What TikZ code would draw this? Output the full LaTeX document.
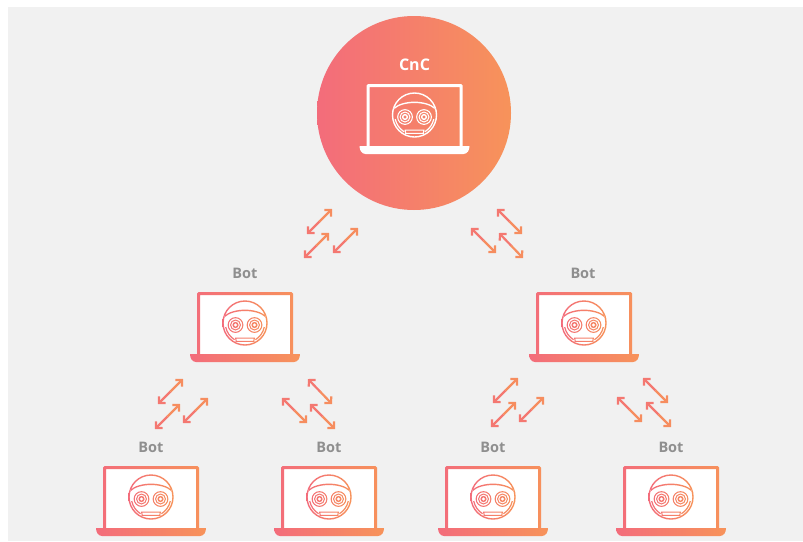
\documentclass[tikz,border=0pt]{standalone}
\usepackage{xcolor}
\usepackage{fontspec}
\setmainfont{Open Sans}
\usetikzlibrary{positioning, arrows.meta, calc}
\definecolor{gradpink}{HTML}{F36C7B}
\definecolor{gradorange}{HTML}{F7935A}
\definecolor{panelgray}{HTML}{F1F1F1}
\definecolor{labelgray}{HTML}{8F8F8F}

\tikzset{
    laptop/.pic={
        \fill[screenfill] (-46,2) rectangle (46,62);
        % body and base in one outline, the screen cut out of it
        \path[inkfill, even odd rule]
            (-55,62) -- (-48,62) [rounded corners=1.5] -- (-48,0) -- (48,0) [sharp corners] -- (48,62) -- (55,62)
            .. controls (55,66) and (53,70) .. (49,70) -- (-49,70) .. controls (-53,70) and (-55,66) .. (-55,62) -- cycle
            (-45,3) rectangle (45,62);
        % face: rings, band and mouth as thin closed outlines
        \path[inkfill, even odd rule, shift={(0,31)}]
            (0,0) circle[radius=22.7] (0,0) circle[radius=21.3]
            (-9.5,2) circle[radius=7.9] (-9.5,2) circle[radius=6.8]
            (-9.5,2) circle[radius=5.5] (-9.5,2) circle[radius=4.4]
            (-9.5,2) circle[radius=3.1] (-9.5,2) circle[radius=1.9]
            (9.5,2) circle[radius=7.9] (9.5,2) circle[radius=6.8]
            (9.5,2) circle[radius=5.5] (9.5,2) circle[radius=4.4]
            (9.5,2) circle[radius=3.1] (9.5,2) circle[radius=1.9]
            (-20.9,-7) .. controls (-12,-15.5) and (12,-15.5) .. (20.9,-7)
            -- (20.4,-5.8) .. controls (12,-14) and (-12,-14) .. (-20.4,-5.8) -- cycle
            (168:20.3) arc[start angle=168, end angle=122, radius=20.3]
            -- (122:19.1) arc[start angle=122, end angle=168, radius=19.1] -- cycle
            (12:20.3) arc[start angle=12, end angle=58, radius=20.3]
            -- (58:19.1) arc[start angle=58, end angle=12, radius=19.1] -- cycle
            (-10,14.6) -- (10,14.6) -- (9.2,18.8) -- (-9.2,18.8) -- cycle
            (-8.8,15.7) -- (8.8,15.7) -- (8.3,17.8) -- (-8.3,17.8) -- cycle;
    },
    botlaptop/.style={
        inkfill/.style={left color=gradpink, right color=gradorange},
        screenfill/.style={white}
    },
    cnclaptop/.style={
        inkfill/.style={fill=white},
        screenfill/.style={fill opacity=0}
    },
    botlabel/.style={anchor=base, text=labelgray, font=\fontsize{14.5}{17}\selectfont\bfseries},
    cnclabel/.style={anchor=base, text=white, font=\fontsize{16}{19}\selectfont\bfseries},
    linkpink/.style={-{Straight Barb[length=4.5pt, width=9.5pt]}, line width=2.2pt, gradpink!70!gradorange},
    linkorange/.style={-{Straight Barb[length=4.5pt, width=9.5pt]}, line width=2.2pt, gradorange!85!gradpink}
}

\begin{document}
\begin{tikzpicture}[x=1pt, y=-1pt]
    \useasboundingbox (0,0) rectangle (803,541);
    \fill[panelgray] (8,7) rectangle (803,541);

    \node[circle, minimum size=194pt, inner sep=0pt, left color=gradpink, right color=gradorange] (cncdisc) at (414,113) {};
    \node[cnclabel] (cnclabel) at (414.5,70.5) {CnC};
    \pic[cnclaptop] (cnc) at (414.5,84) {laptop};

    \foreach \botname/\botx/\boty/\labelx in {midA/245/292/245, midB/584/292/583, lowA/151/466/151, lowB/329/466/329, lowC/493/466/493, lowD/671/466/671} {
        \node[botlabel] (\botname label) at (\labelx,\boty-14) {Bot};
        \pic[botlaptop] (\botname) at (\botx,\boty) {laptop};
    }

    % each arrow runs from its pink tip to its orange tip
    \foreach \linkname/\sx/\sy/\ex/\ey in {
        la/307/234/332/209, lb/304/258/329/233, lc/333/253/358/228,
        ra/497/209/522/234, rb/471/228/496/253, rc/499/233/523/258,
        ma/158/404/183/379, mb/155/429/180/404, mc/183/423/208/398,
        na/308/379/332/404, nb/282/398/307/423, nc/310/404/335/429,
        oa/493/403/518/378, ob/491/427/516/402, oc/519/422/544/397,
        pa/643/378/668/403, pb/617/397/642/422, pc/646/402/671/427} {
        \coordinate (\linkname s) at (\sx,\sy);
        \coordinate (\linkname e) at (\ex,\ey);
        \coordinate (\linkname m) at ($(\linkname s)!0.5!(\linkname e)$);
        \draw[linkpink] (\linkname m) -- (\linkname s);
        \draw[linkorange] (\linkname m) -- (\linkname e);
    }
\end{tikzpicture}
\end{document}
